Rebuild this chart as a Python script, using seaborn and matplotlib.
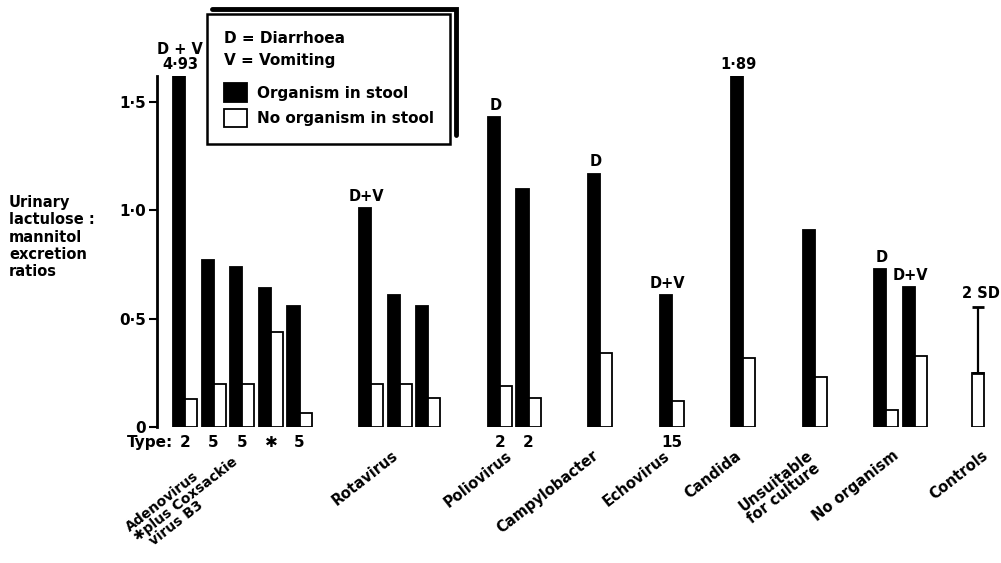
import numpy as np
import pandas as pd
import matplotlib
matplotlib.use("Agg")
import matplotlib.pyplot as plt
import matplotlib.transforms as mtransforms
from matplotlib.lines import Line2D
from matplotlib.patches import Patch
import seaborn as sns

# Values (one inner list per group, one entry per patient pair)
groups = ["Adenovirus\n✱plus Coxsackie\n  virus B3", "Rotavirus", "Poliovirus", "Campylobacter",
          "Echovirus", "Candida", "Unsuitable\nfor culture", "No organism", "Controls"]
organism = [[4.93, 0.77, 0.74, 0.64, 0.56], [1.01, 0.61, 0.56], [1.43, 1.10], [1.17],
            [0.61], [1.89], [0.91], [0.73, 0.645], [np.nan]]
no_organism = [[0.13, 0.20, 0.20, 0.44, 0.065], [0.20, 0.20, 0.135], [0.19, 0.135], [0.34],
               [0.12], [0.32], [0.23], [0.08, 0.33], [0.25]]
types = [["2", "5", "5", "✱", "5"], ["", "", ""], ["2", "2"], [""], ["15"], [""], [""], ["", ""], [""]]
notes = [["D + V\n4·93", "", "", "", ""], ["D+V", "", ""], ["D", ""], ["D"], ["D+V"], ["1·89"],
         [""], ["D", "D+V"], [""]]
controls_2sd = 0.305
yticks = [0, 0.5, 1.0, 1.5]
ytick_labels = ["0", "0·5", "1·0", "1·5"]

# layout: gap (in pair slots) before each group
gaps = [0, 2.5, 2.5, 2.5, 2.5, 2.5, 2.5, 2.5, 2.0]
YTOP = 1.62
WIDTH = 0.84

rows = []
pos = []
x = -1.0
for g, gap in enumerate(gaps):
    x += gap if g else 1.0
    gpos = []
    for i in range(len(no_organism[g])):
        if i:
            x += 1.0
        gpos.append(x)
        if not np.isnan(organism[g][i]):
            rows.append({"pos": x, "ratio": organism[g][i], "stool": "Organism in stool"})
        rows.append({"pos": x, "ratio": no_organism[g][i], "stool": "No organism in stool"})
    pos.append(gpos)
df = pd.DataFrame(rows)

sns.set_style("white")
plt.rcParams["font.family"] = ["DejaVu Sans"]
plt.rcParams["font.weight"] = "bold"
plt.rcParams["text.color"] = "black"
plt.rcParams["axes.labelcolor"] = "black"
plt.rcParams["ytick.color"] = "black"
plt.rcParams["xtick.color"] = "black"

fig = plt.figure(figsize=(10.01, 5.63), dpi=100)
ax = fig.add_axes([157 / 1001, 136 / 563, 843 / 1001, 351 / 563])

sns.barplot(data=df, x="pos", y="ratio", hue="stool",
            hue_order=["Organism in stool", "No organism in stool"],
            palette={"Organism in stool": "black", "No organism in stool": "white"},
            native_scale=True, width=WIDTH, errorbar=None, edgecolor="black",
            linewidth=1.3, legend=False, ax=ax)

ax.set_ylim(0, YTOP)
ax.set_xlim(-0.978, 28.47)
ax.set_xlabel("")
ax.set_ylabel("")
ax.set_xticks([])
ax.set_yticks(yticks)
ax.set_yticklabels(ytick_labels, fontsize=11, fontweight="bold", color="black")
ax.tick_params(axis="y", direction="out", length=6, width=1.5, pad=2, left=True,
               colors="black")
for s in ["top", "right", "bottom"]:
    ax.spines[s].set_visible(False)
ax.spines["left"].set_linewidth(2)
ax.spines["left"].set_color("black")

trans = mtransforms.blended_transform_factory(ax.transData, ax.transAxes)
off = WIDTH / 4

for g in range(len(groups)):
    for i, p in enumerate(pos[g]):
        if notes[g][i]:
            top = min(organism[g][i], YTOP)
            ax.annotate(notes[g][i], (p - off, top), xytext=(1, 3), textcoords="offset points",
                        ha="center", va="bottom", fontsize=10.5, fontweight="bold",
                        linespacing=1.0, annotation_clip=False)
        if types[g][i]:
            ax.text(p, -0.043, types[g][i], transform=trans, ha="center", va="center",
                    fontsize=11, fontweight="bold", clip_on=False)
    lx = np.mean(pos[g]) - 0.3
    ly = -0.06
    fs, ls = 10.5, 0.95
    if np.isnan(organism[g][0]):
        lx = pos[g][0] + off + 0.1
    if g == 0:
        lx -= 0.35
        ly = -0.05
        fs, ls = 10, 0.9
    ax.text(lx, ly, groups[g], transform=trans, rotation=38, rotation_mode="anchor",
            ha="right", va="top", multialignment="left", fontsize=fs, fontweight="bold",
            linespacing=ls, clip_on=False)

ax.text(pos[0][0] - 0.4, -0.043, "Type:", transform=trans, ha="right", va="center",
        fontsize=11, fontweight="bold", clip_on=False)

# controls: 2 SD error bar
cx = pos[-1][0] + off
ax.errorbar([cx], [no_organism[-1][0]], yerr=[[0], [controls_2sd]], fmt="none",
            ecolor="black", elinewidth=1.6, capsize=4, capthick=2, zorder=5)
ax.annotate("2 SD", (cx, no_organism[-1][0] + controls_2sd), xytext=(2, 4),
            textcoords="offset points", ha="center", va="bottom", fontsize=10.5,
            fontweight="bold", annotation_clip=False)

fig.text(0.009, 1 - 237 / 563, "Urinary\nlactulose :\nmannitol\nexcretion\nratios",
         ha="left", va="center", fontsize=10.5, fontweight="bold", linespacing=1.2)

handles = [Patch(facecolor="black", edgecolor="black", linewidth=1.3),
           Patch(facecolor="white", edgecolor="black", linewidth=1.3)]
leg = ax.legend(handles, ["Organism in stool", "No organism in stool"],
                title="D = Diarrhoea\nV = Vomiting", loc="upper left",
                bbox_to_anchor=(0.0593, 1.177), borderaxespad=0, frameon=True,
                fancybox=False, edgecolor="black", framealpha=1,
                prop={"weight": "bold", "size": 11},
                title_fontproperties={"weight": "bold", "size": 11},
                handlelength=1.55, handleheight=1.5, handletextpad=0.6,
                labelspacing=0.45, borderpad=1.1)
leg._legend_box.align = "left"
leg._legend_box.sep = 11
leg.get_title().set_linespacing(1.6)
leg.get_frame().set_linewidth(1.8)
leg.set_clip_on(False)

# offset double frame on top and right of the legend
fig.canvas.draw()
bb = leg.get_frame().get_window_extent()
x0, y0, x1, y1 = bb.x0, bb.y0, bb.x1, bb.y1
fig.add_artist(Line2D([x0 + 5, x1 + 6, x1 + 6], [y1 + 5, y1 + 5, y0 + 9],
                      transform=None, color="black", linewidth=3.5,
                      solid_joinstyle="miter"))

fig.savefig("out.png", dpi=100)
